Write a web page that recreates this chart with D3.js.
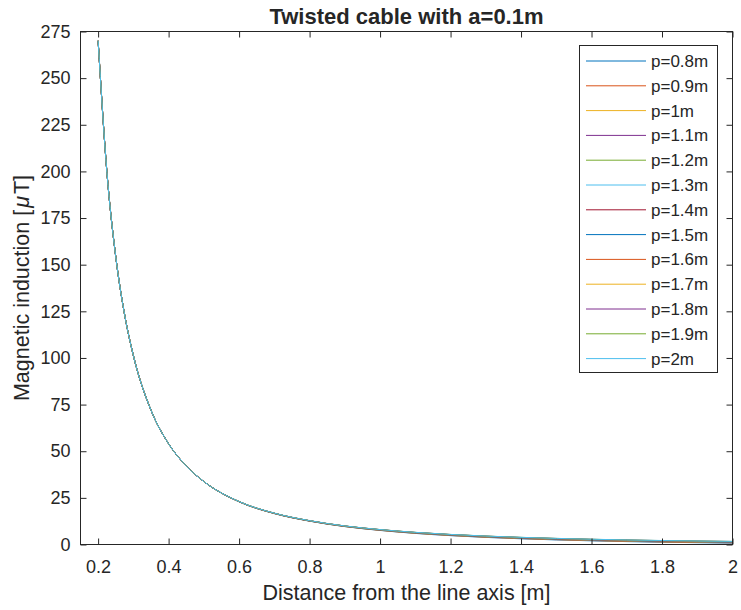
<!DOCTYPE html>
<html><head><meta charset="utf-8">
<script src="https://cdn.jsdelivr.net/npm/d3@7"></script>
<style>body{margin:0;background:#fff;} text{font-family:"Liberation Sans",Arial,Helvetica,sans-serif;fill:#262626;}</style>
</head><body><svg id="c" width="741" height="610"></svg>
<script>
const xNear = [0.2,0.225,0.25,0.275,0.3,0.35,0.4,0.45,0.5];
const yNear = [270,199.4,154.3,123.4,101.3,72.0,54.0,42.1,33.75];
const xFar = [0.6,0.7,0.8,0.9,1.0,1.1,1.2,1.3,1.4,1.5,1.6,1.7,1.8,1.9,2.0];
const seriesNames = ["p=0.8m","p=0.9m","p=1m","p=1.1m","p=1.2m","p=1.3m","p=1.4m","p=1.5m","p=1.6m","p=1.7m","p=1.8m","p=1.9m","p=2m"];
const p08 = [22.87,16.56,12.51,9.60,7.54,5.94,4.75,3.81,3.07,2.46,1.97,1.55,1.23,0.97,0.77];
const p09 = [22.90,16.60,12.56,9.65,7.62,6.04,4.86,3.93,3.20,2.60,2.12,1.70,1.38,1.12,0.92];
const p10 = [22.92,16.63,12.60,9.70,7.69,6.12,4.95,4.03,3.31,2.72,2.24,1.83,1.51,1.25,1.05];
const p11 = [22.94,16.67,12.63,9.75,7.74,6.19,5.03,4.12,3.40,2.82,2.35,1.94,1.63,1.37,1.16];
const p12 = [22.96,16.69,12.66,9.78,7.79,6.25,5.10,4.19,3.48,2.90,2.43,2.03,1.72,1.46,1.25];
const p13 = [22.97,16.71,12.69,9.82,7.84,6.30,5.16,4.26,3.56,2.98,2.51,2.12,1.81,1.55,1.34];
const p14 = [22.98,16.73,12.70,9.84,7.87,6.34,5.20,4.31,3.61,3.04,2.57,2.18,1.87,1.61,1.40];
const p15 = [23.00,16.75,12.72,9.87,7.90,6.39,5.25,4.37,3.66,3.10,2.64,2.24,1.93,1.67,1.46];
const p16 = [23.01,16.76,12.74,9.89,7.93,6.42,5.29,4.41,3.71,3.14,2.68,2.29,1.99,1.73,1.51];
const p17 = [23.01,16.77,12.76,9.91,7.96,6.45,5.32,4.45,3.75,3.19,2.73,2.34,2.04,1.78,1.56];
const p18 = [23.02,16.78,12.77,9.93,7.98,6.47,5.35,4.48,3.78,3.23,2.77,2.38,2.07,1.81,1.60];
const p19 = [23.03,16.79,12.78,9.94,8.00,6.50,5.38,4.51,3.82,3.26,2.80,2.42,2.11,1.85,1.64];
const p20 = [23.03,16.80,12.79,9.95,8.01,6.52,5.40,4.53,3.84,3.28,2.83,2.44,2.14,1.88,1.66];
const farValues = [p08,p09,p10,p11,p12,p13,p14,p15,p16,p17,p18,p19,p20];
const colors = ["#0072BD","#D95319","#EDB120","#7E2F8E","#77AC30","#4DBEEE","#A2142F"];
const xTicks = [0.2,0.4,0.6,0.8,1,1.2,1.4,1.6,1.8,2];
const yTicks = [0,25,50,75,100,125,150,175,200,225,250,275];

const svg = d3.select("#c");
const L=80.5, R=732.5, T=31.5, B=544.5;
const x = d3.scaleLinear().domain([0.15,2]).range([L,R]);
const y = d3.scaleLinear().domain([0,275]).range([B,T]);
const xs = xNear.concat(xFar);

const line = d3.line().x(d=>x(d[0])).y(d=>y(d[1])).curve(d3.curveMonotoneX);
const g = svg.append("g");
farValues.forEach((vals,i)=>{
  const ys = yNear.concat(vals);
  g.append("path").datum(xs.map((xv,j)=>[xv,ys[j]]))
   .attr("d",line).attr("fill","none").attr("stroke",colors[i%7]).attr("stroke-width",1);
});

// axes
const ax = svg.append("g");
ax.append("g").attr("transform",`translate(0,${B})`)
  .call(d3.axisBottom(x).tickValues(xTicks).tickSize(-6).tickPadding(16).tickFormat(d3.format("")))
  .call(s=>{s.select(".domain").remove();});
ax.append("g").attr("transform",`translate(0,${T})`)
  .call(d3.axisTop(x).tickValues(xTicks).tickSize(-6).tickFormat(""))
  .call(s=>{s.select(".domain").remove();});
ax.append("g").attr("transform",`translate(${L},0)`)
  .call(d3.axisLeft(y).tickValues(yTicks).tickSize(-6).tickPadding(10))
  .call(s=>{s.select(".domain").remove();});
ax.append("g").attr("transform",`translate(${R},0)`)
  .call(d3.axisRight(y).tickValues(yTicks).tickSize(-6).tickFormat(""))
  .call(s=>{s.select(".domain").remove();});
ax.selectAll(".tick line").attr("stroke","#262626");
ax.selectAll(".tick text").attr("font-size",18).attr("fill","#262626").attr("font-family","'Liberation Sans',Arial,sans-serif");
svg.append("rect").attr("x",L).attr("y",T).attr("width",R-L).attr("height",B-T)
  .attr("fill","none").attr("stroke","#262626").attr("stroke-width",1);

// title & labels
svg.append("text").attr("x",(L+R)/2).attr("y",24).attr("text-anchor","middle")
  .attr("font-size",22).attr("font-weight","bold").text("Twisted cable with a=0.1m");
svg.append("text").attr("x",(L+R)/2).attr("y",600).attr("text-anchor","middle")
  .attr("font-size",21.5).text("Distance from the line axis [m]");
const yl = svg.append("text").attr("transform",`translate(29,${(T+B)/2}) rotate(-90)`)
  .attr("text-anchor","middle").attr("font-size",21.5);
yl.append("tspan").text("Magnetic induction [");
yl.append("tspan").attr("font-style","italic").attr("dx",2).text("μ");
yl.append("tspan").attr("dx",2).text("T]");

// legend
const lg = svg.append("g");
lg.append("rect").attr("x",579.5).attr("y",45.5).attr("width",138).attr("height",327)
  .attr("fill","#fff").attr("stroke","#262626").attr("stroke-width",1);
seriesNames.forEach((n,i)=>{
  const yy = 61 + i*24.8;
  lg.append("line").attr("x1",586).attr("x2",646).attr("y1",yy).attr("y2",yy)
    .attr("stroke",colors[i%7]).attr("stroke-width",1);
  lg.append("text").attr("x",651).attr("y",yy+6).attr("font-size",17).text(n);
});
</script></body></html>
